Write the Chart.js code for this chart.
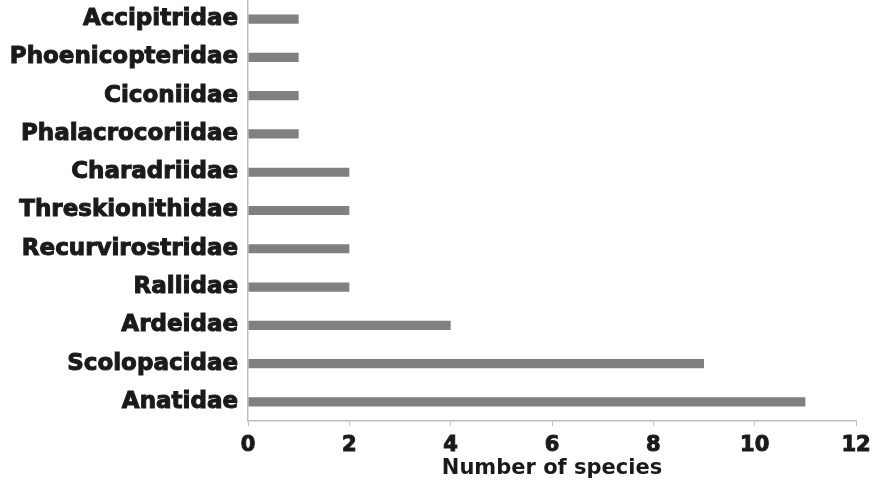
<!DOCTYPE html>
<html>
<head>
<meta charset="utf-8">
<script src="https://cdn.jsdelivr.net/npm/chart.js@4.4.1/dist/chart.umd.min.js"></script>
<style>
  html, body { margin: 0; padding: 0; background: #fff; }
  #wrap { width: 878px; height: 484px; }
</style>
</head>
<body>
<div id="wrap"><canvas id="familyChart"></canvas></div>
<script>
const families = [
  "Accipitridae", "Phoenicopteridae", "Ciconiidae", "Phalacrocoriidae",
  "Charadriidae", "Threskionithidae", "Recurvirostridae", "Rallidae",
  "Ardeidae", "Scolopacidae", "Anatidae"
];
const speciesCount = [1, 1, 1, 1, 2, 2, 2, 2, 4, 9, 11];
const xTicks = [0, 2, 4, 6, 8, 10, 12];

const FONT = "'DejaVu Sans', 'Liberation Sans', Arial, sans-serif";
const INK = "#1a1a1a";

new Chart(document.getElementById("familyChart"), {
  type: "bar",
  data: {
    labels: families,
    datasets: [{
      data: speciesCount,
      backgroundColor: "#808080",
      barPercentage: 0.24,
      categoryPercentage: 1
    }]
  },
  options: {
    indexAxis: "y",
    responsive: true,
    maintainAspectRatio: false,
    animation: false,
    layout: { padding: { top: 0, right: 22, bottom: 0, left: 0 } },
    plugins: { legend: { display: false }, tooltip: { enabled: false } },
    scales: {
      x: {
        min: xTicks[0],
        max: xTicks[xTicks.length - 1],
        afterBuildTicks: axis => { axis.ticks = xTicks.map(v => ({ value: v })); },
        grid: { display: true, drawOnChartArea: false, drawTicks: true, tickLength: 5, color: "#bfbfbf" },
        border: { color: "#bfbfbf", width: 1.5 },
        ticks: { color: INK, textStrokeColor: INK, textStrokeWidth: 1,
                 font: { family: FONT, size: 21, weight: "bold" }, padding: 7 },
        title: { display: true, text: "Number of species", color: INK,
                 font: { family: FONT, size: 21, weight: "bold" }, padding: { top: 0, bottom: 3 } },
        afterFit: axis => { axis.height = 63; axis.paddingLeft = 0; axis.paddingRight = 0; }
      },
      y: {
        grid: { display: false, drawTicks: false },
        border: { color: "#bfbfbf", width: 1.5 },
        ticks: { color: INK, textStrokeColor: INK, textStrokeWidth: 1,
                 font: { family: FONT, size: 23, weight: "bold" }, padding: 10 },
        afterFit: axis => { axis.width = 248; axis.paddingTop = 0; axis.paddingBottom = 0; }
      }
    }
  }
});
</script>
</body>
</html>
